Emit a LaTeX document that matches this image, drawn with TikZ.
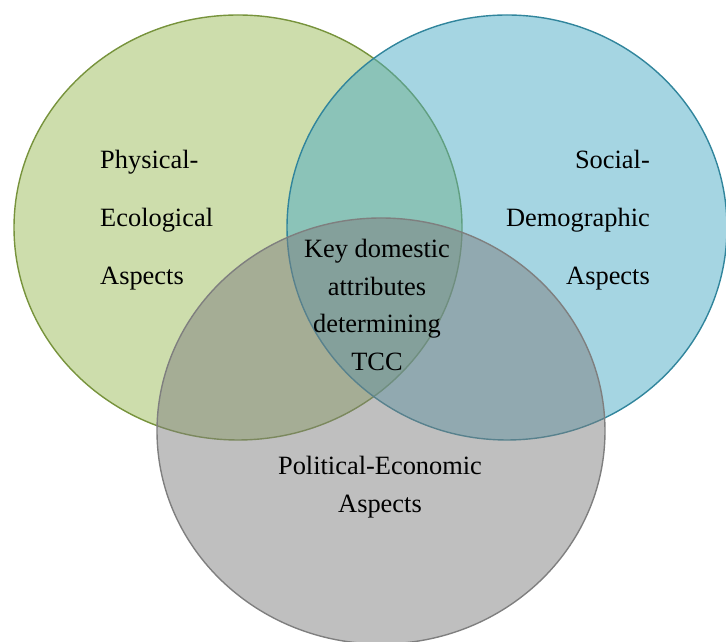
\documentclass[tikz,border=0pt]{standalone}
\usepackage{fontspec}
\setmainfont{Liberation Serif}
\definecolor{ecofill}{HTML}{CDDDAC}
\definecolor{ecoline}{HTML}{77933C}
\definecolor{socfill}{HTML}{4BABC5}
\definecolor{socline}{HTML}{31859C}
\definecolor{polfill}{HTML}{7F7F7F}
\definecolor{polline}{HTML}{7F7F7F}
\tikzset{
  set/.style={line width=1.4pt},
  sidelabel/.style={inner sep=0pt, font=\fontsize{26.4}{58}\selectfont},
  midlabel/.style={inner sep=0pt, align=center, font=\fontsize{26.4}{37.5}\selectfont}
}
\begin{document}
\begin{tikzpicture}[x=1pt,y=1pt]
\useasboundingbox (0,0) rectangle (726,642);
\begin{scope}
\clip (0,0) rectangle (726,642);
% the three overlapping sets
\path[set, fill=ecofill, draw=ecoline] (238,414.5) ellipse [x radius=224, y radius=212.5];
\path[set, fill=socfill, fill opacity=0.5, draw=socline] (507,414.5) ellipse [x radius=220, y radius=212.5];
\path[set, fill=polfill, fill opacity=0.5, draw=polline] (381,211) ellipse [x radius=224, y radius=213];
\end{scope}
% labels
\node[sidelabel, align=left, anchor=west] (phys) at (100,422)
  {Physical-\\Ecological\\Aspects};
\node[sidelabel, align=right, anchor=east] (soc) at (650,422)
  {Social-\\Demographic\\Aspects};
\node[midlabel] (key) at (377,337)
  {Key domestic\\attributes\\determining\\TCC};
\node[midlabel] (pol) at (380,155)
  {Political-Economic\\Aspects};
\end{tikzpicture}
\end{document}
